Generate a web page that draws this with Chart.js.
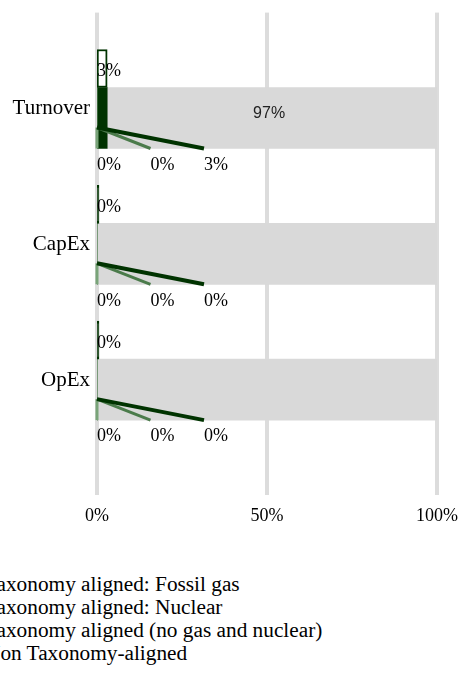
<!DOCTYPE html>
<html>
<head>
<meta charset="utf-8">
<script src="https://cdn.jsdelivr.net/npm/chart.js@4.4.0/dist/chart.umd.min.js"></script>
<style>
  html, body { margin: 0; padding: 0; background: #fff; overflow: hidden; }
  body { width: 463px; height: 675px; position: relative; }
  #wrap { position: absolute; left: 0; top: 0; width: 463px; height: 540px; }
  #legend {
    position: absolute; left: -37px; top: 573px; margin: 0; padding: 0; list-style: none;
    font: 21.3px "Liberation Serif", "Times New Roman", serif; line-height: 23px; color: #000; white-space: nowrap;
  }
  #legend li span { display: inline-block; width: 14px; height: 14px; margin-right: 8px; }
</style>
</head>
<body>
<div id="wrap"><canvas id="chart"></canvas></div>
<ul id="legend"></ul>
<script>
const categories = ["Turnover", "CapEx", "OpEx"];
const fossilGas = [0, 0, 0];
const nuclear = [0, 0, 0];
const alignedNoGasNuclear = [3, 0, 0];
const nonAligned = [97, 100, 100];
const alignedTotal = [3, 0, 0];
const xTicks = [0, 50, 100];

const seriesLabels = [
  "Taxonomy aligned: Fossil gas",
  "Taxonomy aligned: Nuclear",
  "Taxonomy aligned (no gas and nuclear)",
  "Non Taxonomy-aligned",
];
const seriesColors = ["#79a479", "#4b7b4b", "#003300", "#d9d9d9"];
const serif = "Liberation Serif";

// leader lines + value labels
const calloutPlugin = {
  id: "callouts",
  afterDatasetsDraw(chart) {
    const ctx = chart.ctx;
    const x0 = chart.scales.xv.getPixelForValue(0);
    const leaders = [fossilGas, nuclear, alignedNoGasNuclear];
    ctx.save();
    categories.forEach((cat, i) => {
      const bar = chart.getDatasetMeta(1).data[i];
      const top = bar.y + 9.5;
      const bottom = bar.y + bar.height / 2;
      leaders.forEach((vals, k) => {
        const ex = x0 + k * 53.5;
        ctx.strokeStyle = seriesColors[k];
        ctx.lineWidth = k === 2 ? 4 : 3;
        ctx.beginPath();
        ctx.moveTo(x0, top);
        ctx.lineTo(ex, bottom);
        ctx.stroke();
        ctx.fillStyle = "#000";
        ctx.font = "18px '" + serif + "'";
        ctx.textAlign = "left";
        ctx.textBaseline = "middle";
        ctx.fillText(vals[i] + "%", ex, bottom + 16.5);
      });
      const t = chart.getDatasetMeta(0).data[i];
      ctx.fillText(alignedTotal[i] + "%", x0, t.y + 3);
      if (nonAligned[i] < 100) {
        const g = chart.getDatasetMeta(4).data[i];
        ctx.font = "16px 'Liberation Sans'";
        ctx.fillStyle = "#222";
        ctx.textAlign = "center";
        ctx.fillText(nonAligned[i] + "%", (g.x + g.base) / 2 - 3, g.y - 4);
      }
    });
    ctx.restore();
  },
};

// bars sit on a hidden value scale so they start right on the 0% grid line
const main = { stack: "main", barThickness: 61, borderWidth: 0, xAxisID: "xv", yAxisID: "y" };
const gridStyle = { color: "#dcdcdc", lineWidth: 4 };

new Chart(document.getElementById("chart"), {
  type: "bar",
  data: {
    labels: categories,
    datasets: [
      {
        label: "Taxonomy aligned", data: alignedTotal, stack: "total", xAxisID: "xv", yAxisID: "y",
        // empty bars collapse to a solid dark stroke
        backgroundColor: (c) => (alignedTotal[c.dataIndex] > 0 ? "#fff" : "#003300"),
        borderColor: "#003300", borderWidth: 2, borderSkipped: false,
        barThickness: 38, minBarLength: 2,
      },
      { ...main, label: seriesLabels[0], data: fossilGas, backgroundColor: seriesColors[0] },
      { ...main, label: seriesLabels[1], data: nuclear, backgroundColor: seriesColors[1] },
      { ...main, label: seriesLabels[2], data: alignedNoGasNuclear, backgroundColor: seriesColors[2] },
      { ...main, label: seriesLabels[3], data: nonAligned, backgroundColor: seriesColors[3] },
    ],
  },
  options: {
    indexAxis: "y",
    responsive: true,
    maintainAspectRatio: false,
    animation: false,
    layout: { padding: { left: 10, right: 26, top: 11, bottom: 13 } },
    plugins: { legend: { display: false }, tooltip: { enabled: false } },
    scales: {
      xv: { type: "linear", axis: "x", display: false, stacked: true, min: 0, max: 100 },
      x: {
        type: "linear", position: "bottom", min: 0, max: 100,
        afterBuildTicks: (s) => { s.ticks = xTicks.map((v) => ({ value: v })); },
        afterFit: (s) => { s.height = 100; s.paddingLeft = 0; s.paddingRight = 0; },
        grid: { ...gridStyle, tickLength: 68 },
        border: { display: false },
        ticks: {
          padding: 10, color: "#000", font: { family: serif, size: 18 },
          callback: (v) => v + "%",
        },
      },
      xTop: {
        type: "linear", axis: "x", position: "top", min: 0, max: 100,
        afterBuildTicks: (s) => { s.ticks = xTicks.map((v) => ({ value: v })); },
        afterFit: (s) => { s.height = 7; s.paddingLeft = 0; s.paddingRight = 0; },
        grid: { ...gridStyle, tickLength: 7, drawOnChartArea: false },
        border: { display: false },
        ticks: { display: false },
      },
      y: {
        type: "category",
        afterFit: (s) => { s.width = 87; },
        grid: { display: false, drawTicks: false },
        border: { display: false },
        ticks: { labelOffset: 21, padding: 7, color: "#000", font: { family: serif, size: 21 } },
      },
    },
  },
  plugins: [calloutPlugin],
});

const legend = document.getElementById("legend");
seriesLabels.forEach((label, i) => {
  const li = document.createElement("li");
  const sw = document.createElement("span");
  sw.style.background = seriesColors[i];
  li.appendChild(sw);
  li.appendChild(document.createTextNode(label));
  legend.appendChild(li);
});
</script>
</body>
</html>
